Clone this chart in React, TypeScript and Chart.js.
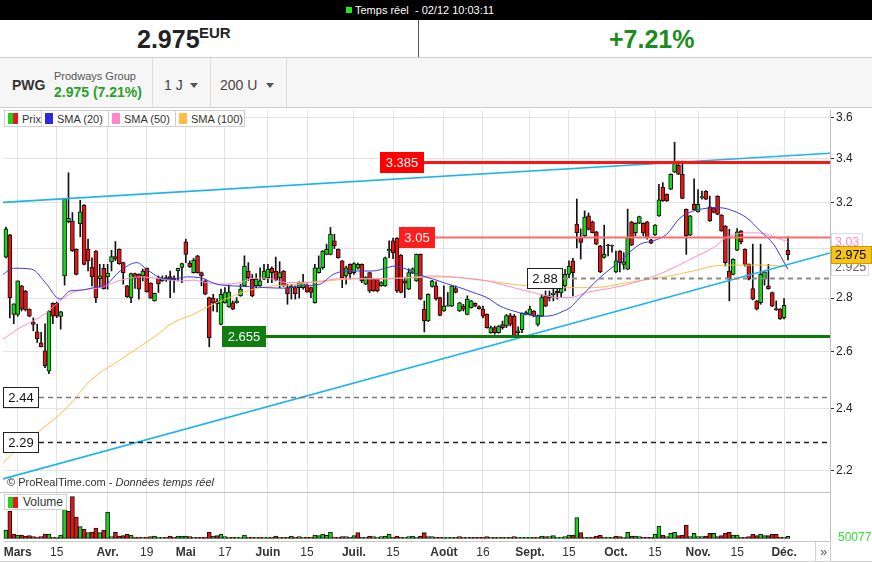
import React, { useEffect, useRef } from 'react';
import { Chart, registerables } from 'chart.js';

Chart.register(...registerables);

const FONT = '"Liberation Sans", Arial, Helvetica, sans-serif';

// ---- daily candles (index 0 = 24 Feb, index 200 = 2 Dec) ----
const opens = [
  2.965, 3.058, 2.737, 2.737, 2.848, 2.828, 2.757, 2.709, 2.671, 2.631,
  2.601, 2.529, 2.780, 2.780, 2.729, 2.888, 3.115, 3.118, 2.997, 3.106,
  3.187, 2.997, 2.924, 2.990, 2.877, 2.919, 2.885, 2.945, 2.967, 2.997,
  2.942, 2.848, 2.802, 2.897, 2.894, 2.888, 2.919, 2.859, 2.789, 2.879,
  2.868, 2.881, 2.885, 2.879, 2.908, 2.922, 3.029, 2.940, 2.901, 2.970,
  2.901, 2.868, 2.802, 2.800, 2.786, 2.699, 2.782, 2.766, 2.782, 2.782,
  2.809, 2.848, 2.908, 2.875, 2.848, 2.848, 2.875, 2.881, 2.919, 2.908,
  2.881, 2.908, 2.841, 2.841, 2.841, 2.841, 2.841, 2.851, 2.841, 2.782,
  2.901, 2.921, 2.976, 2.976, 3.033, 2.997, 2.949, 2.888, 2.935, 2.901,
  2.919, 2.935, 2.855, 2.901, 2.875, 2.875, 2.848, 2.848, 2.990, 3.033,
  3.043, 2.973, 2.868, 2.835, 2.899, 2.868, 2.976, 2.757, 2.712, 2.846,
  2.848, 2.802, 2.750, 2.769, 2.769, 2.837, 2.750, 2.769, 2.737, 2.763,
  2.780, 2.767, 2.757, 2.737, 2.668, 2.687, 2.668, 2.698, 2.693, 2.733,
  2.730, 2.668, 2.679, 2.737, 2.737, 2.750, 2.699, 2.730, 2.809, 2.802,
  2.813, 2.828, 2.820, 2.848, 2.894, 2.949, 3.105, 3.047, 3.054, 3.140,
  3.114, 3.071, 3.012, 2.963, 3.016, 3.010, 2.904, 2.990, 2.935, 2.915,
  3.114, 3.068, 3.108, 3.108, 3.114, 3.037, 3.058, 3.140, 3.269, 3.236,
  3.259, 3.338, 3.371, 3.328, 3.169, 3.057, 3.191, 3.158, 3.221, 3.251,
  3.180, 3.176, 3.228, 3.144, 3.096, 2.908, 2.894, 2.994, 3.075, 2.997,
  2.935, 2.837, 2.789, 2.782, 2.875, 2.848, 2.822, 2.759, 2.757, 2.724,
  2.993,
];

const highs = [
  3.092, 3.060, 2.778, 2.868, 2.850, 2.830, 2.758, 2.724, 2.700, 2.669,
  2.701, 2.752, 2.782, 2.785, 2.749, 3.218, 3.335, 3.155, 2.999, 3.209,
  3.190, 3.040, 2.962, 2.992, 2.935, 2.935, 2.935, 2.993, 3.030, 2.999,
  2.944, 2.850, 2.899, 2.899, 2.896, 2.915, 2.920, 2.861, 2.820, 2.888,
  2.888, 2.890, 2.908, 2.888, 2.920, 2.940, 3.040, 2.949, 2.960, 2.972,
  2.904, 2.875, 2.804, 2.815, 2.797, 2.835, 2.841, 2.852, 2.789, 2.802,
  2.855, 2.970, 2.942, 2.894, 2.897, 2.921, 2.935, 2.935, 2.925, 2.965,
  2.946, 2.910, 2.855, 2.855, 2.848, 2.865, 2.894, 2.861, 2.843, 2.935,
  2.970, 2.992, 3.019, 3.090, 3.061, 2.999, 2.951, 2.928, 2.937, 2.942,
  2.940, 2.937, 2.885, 2.903, 2.877, 2.877, 2.865, 2.965, 3.033, 3.045,
  3.047, 2.975, 2.881, 2.917, 2.921, 2.978, 2.978, 2.789, 2.817, 2.870,
  2.864, 2.804, 2.848, 2.822, 2.850, 2.848, 2.784, 2.776, 2.809, 2.791,
  2.782, 2.770, 2.769, 2.739, 2.693, 2.693, 2.695, 2.712, 2.737, 2.741,
  2.737, 2.690, 2.743, 2.750, 2.769, 2.752, 2.735, 2.815, 2.828, 2.828,
  2.836, 2.836, 2.860, 2.915, 2.949, 2.960, 3.215, 3.084, 3.162, 3.153,
  3.118, 3.073, 3.014, 3.100, 3.018, 3.016, 2.990, 2.992, 2.983, 3.170,
  3.116, 3.110, 3.139, 3.110, 3.116, 3.039, 3.102, 3.282, 3.289, 3.238,
  3.330, 3.480, 3.390, 3.390, 3.171, 3.142, 3.307, 3.258, 3.251, 3.253,
  3.228, 3.178, 3.230, 3.146, 3.098, 3.082, 2.958, 3.085, 3.077, 2.999,
  2.937, 3.019, 2.791, 3.019, 2.906, 2.935, 2.824, 2.789, 2.759, 2.798,
  3.050,
];

const lows = [
  2.961, 2.724, 2.702, 2.730, 2.750, 2.750, 2.728, 2.675, 2.632, 2.616,
  2.541, 2.520, 2.702, 2.725, 2.681, 2.851, 3.110, 2.988, 2.892, 3.050,
  2.933, 2.908, 2.848, 2.782, 2.841, 2.835, 2.835, 2.908, 2.950, 2.935,
  2.855, 2.803, 2.782, 2.838, 2.796, 2.868, 2.823, 2.799, 2.788, 2.822,
  2.866, 2.866, 2.802, 2.822, 2.868, 2.861, 2.942, 2.922, 2.899, 2.899,
  2.848, 2.813, 2.616, 2.750, 2.747, 2.697, 2.780, 2.764, 2.755, 2.780,
  2.807, 2.846, 2.870, 2.805, 2.841, 2.846, 2.873, 2.861, 2.861, 2.868,
  2.841, 2.846, 2.776, 2.796, 2.796, 2.800, 2.835, 2.822, 2.802, 2.780,
  2.899, 2.915, 2.974, 2.974, 3.000, 2.960, 2.841, 2.855, 2.875, 2.894,
  2.915, 2.861, 2.853, 2.822, 2.826, 2.824, 2.846, 2.846, 2.962, 2.958,
  2.822, 2.820, 2.802, 2.833, 2.897, 2.866, 2.794, 2.671, 2.710, 2.843,
  2.792, 2.731, 2.748, 2.768, 2.767, 2.820, 2.748, 2.750, 2.735, 2.761,
  2.767, 2.757, 2.724, 2.685, 2.666, 2.662, 2.666, 2.681, 2.687, 2.693,
  2.654, 2.660, 2.668, 2.735, 2.735, 2.728, 2.693, 2.728, 2.767, 2.789,
  2.789, 2.796, 2.805, 2.828, 2.881, 2.809, 3.003, 2.957, 3.050, 3.079,
  3.066, 3.017, 2.901, 2.960, 2.970, 2.985, 2.901, 2.904, 2.915, 2.913,
  3.013, 3.054, 3.106, 3.054, 3.040, 3.021, 3.056, 3.138, 3.204, 3.204,
  3.257, 3.336, 3.326, 3.216, 2.976, 3.055, 3.164, 3.156, 3.214, 3.212,
  3.116, 3.153, 3.145, 3.073, 2.928, 2.789, 2.892, 2.992, 3.020, 2.928,
  2.872, 2.793, 2.754, 2.776, 2.851, 2.835, 2.767, 2.752, 2.718, 2.720,
  2.953,
];

const closes = [
  3.084, 2.802, 2.778, 2.868, 2.757, 2.754, 2.730, 2.699, 2.646, 2.617,
  2.547, 2.750, 2.730, 2.730, 2.747, 3.216, 3.130, 2.990, 2.894, 3.158,
  2.935, 2.949, 2.884, 2.802, 2.888, 2.837, 2.899, 2.967, 2.956, 2.938,
  2.901, 2.805, 2.897, 2.879, 2.835, 2.908, 2.825, 2.800, 2.819, 2.857,
  2.879, 2.876, 2.875, 2.871, 2.919, 2.938, 2.976, 2.925, 2.952, 2.901,
  2.888, 2.815, 2.650, 2.782, 2.778, 2.815, 2.822, 2.825, 2.757, 2.789,
  2.835, 2.928, 2.881, 2.809, 2.875, 2.868, 2.908, 2.915, 2.901, 2.871,
  2.901, 2.848, 2.817, 2.848, 2.817, 2.861, 2.861, 2.824, 2.822, 2.921,
  2.921, 2.990, 2.997, 3.061, 3.012, 2.962, 2.881, 2.921, 2.897, 2.938,
  2.935, 2.868, 2.881, 2.828, 2.828, 2.828, 2.861, 2.962, 2.997, 2.983,
  2.828, 2.822, 2.859, 2.901, 2.917, 2.976, 2.796, 2.712, 2.815, 2.868,
  2.798, 2.733, 2.769, 2.772, 2.848, 2.822, 2.782, 2.757, 2.796, 2.789,
  2.769, 2.759, 2.730, 2.687, 2.687, 2.668, 2.693, 2.687, 2.733, 2.699,
  2.656, 2.675, 2.741, 2.744, 2.757, 2.730, 2.733, 2.802, 2.769, 2.809,
  2.820, 2.820, 2.848, 2.894, 2.928, 2.901, 3.068, 3.026, 3.135, 3.082,
  3.068, 3.019, 2.904, 2.976, 3.012, 3.014, 2.949, 2.942, 2.945, 3.047,
  3.015, 3.108, 3.137, 3.066, 3.047, 3.023, 3.100, 3.211, 3.206, 3.206,
  3.328, 3.379, 3.328, 3.218, 3.054, 3.140, 3.166, 3.191, 3.226, 3.214,
  3.118, 3.155, 3.147, 3.075, 2.942, 2.875, 2.956, 3.071, 3.029, 2.935,
  2.875, 2.796, 2.757, 2.894, 2.904, 2.837, 2.769, 2.754, 2.720, 2.772,
  2.975,
];

const volumes = [
  207500, 675000, 107500, 82500, 82500, 57500, 67500, 42500, 32500, 42500,
  107500, 107500, 17500, 32500, 82500, 767500, 675000, 1042500, 532500, 292500,
  225000, 142500, 157500, 257500, 142500, 207500, 657500, 42500, 150000, 57500,
  67500, 100000, 82500, 32500, 32500, 25000, 32500, 42500, 57500, 25000,
  25000, 32500, 57500, 25000, 57500, 57500, 57500, 42500, 25000, 25000,
  25000, 32500, 150000, 57500, 67500, 107500, 42500, 25000, 25000, 25000,
  32500, 82500, 25000, 25000, 25000, 32500, 32500, 32500, 25000, 57500,
  25000, 25000, 25000, 57500, 25000, 42500, 25000, 25000, 25000, 82500,
  67500, 107500, 75000, 157500, 25000, 25000, 42500, 42500, 25000, 67500,
  142500, 25000, 25000, 57500, 42500, 25000, 42500, 57500, 107500, 25000,
  57500, 25000, 25000, 42500, 57500, 25000, 57500, 142500, 42500, 42500,
  25000, 25000, 32500, 25000, 25000, 25000, 42500, 25000, 25000, 25000,
  25000, 25000, 25000, 42500, 25000, 25000, 25000, 32500, 25000, 25000,
  42500, 25000, 25000, 25000, 25000, 25000, 25000, 57500, 42500, 42500,
  67500, 25000, 25000, 42500, 82500, 82500, 517500, 142500, 25000, 25000,
  25000, 57500, 82500, 25000, 25000, 25000, 57500, 42500, 25000, 150000,
  57500, 57500, 42500, 25000, 25000, 25000, 107500, 307500, 82500, 42500,
  125000, 150000, 67500, 82500, 332500, 42500, 125000, 42500, 42500, 57500,
  125000, 125000, 42500, 67500, 125000, 150000, 82500, 82500, 25000, 25000,
  42500, 107500, 67500, 107500, 67500, 67500, 100000, 100000, 25000, 25000,
  50077,
];

// ---- axis ticks ----
const tickIdx = [3, 13, 26, 36, 46, 56, 67, 77, 89, 99, 112, 122, 134, 144, 156, 166, 177, 187, 199];
const tickLabels = ['Mars', '15', 'Avr.', '19', 'Mai', '17', 'Juin', '15', 'Juil.', '15', 'Août', '16', 'Sept.', '15', 'Oct.', '15', 'Nov.', '15', 'Déc.'];
const priceTicks = [2.2, 2.4, 2.6, 2.8, 3.0, 3.2, 3.4, 3.6];

// ---- moving averages (index, value) ----
const sma20: [number, number][] = [
  [-0.75, 2.894], [1.9, 2.919], [6.6, 2.915], [10.4, 2.855], [13.8, 2.796], [16.4, 2.828], [19, 2.831],
  [22.4, 2.841], [25.8, 2.855], [29.2, 2.908], [33.5, 2.942], [36, 2.915], [39.4, 2.881], [42.8, 2.875],
  [46.2, 2.884], [49.6, 2.881], [53.9, 2.855], [58.2, 2.848], [62.4, 2.845], [66.7, 2.841], [71.8, 2.839],
  [75.2, 2.848], [80.3, 2.855], [83.7, 2.894], [87.2, 2.908], [94, 2.908], [97.4, 2.921], [99.5, 2.928],
  [102.5, 2.915], [105.9, 2.891], [109.3, 2.875], [112.7, 2.857], [116.1, 2.841], [119.5, 2.822], [123, 2.802],
  [126.4, 2.769], [129.8, 2.75], [133.2, 2.737], [136.6, 2.73], [140, 2.734], [142.6, 2.75], [144.3, 2.763],
  [146.8, 2.802], [151.9, 2.881], [157.1, 2.949], [162.2, 3.019], [165.6, 3.033], [169, 3.061], [172.4, 3.131],
  [177.5, 3.169], [182.6, 3.176], [186, 3.162], [189.5, 3.131], [192.9, 3.075], [196.3, 3.019], [198.8, 2.949],
  [200, 2.915],
];
const sma50: [number, number][] = [
  [-0.75, 2.644], [3.6, 2.687], [7, 2.712], [10.4, 2.744], [13.8, 2.789], [17.2, 2.822], [20.7, 2.835],
  [24.1, 2.841], [27.5, 2.861], [30.9, 2.877], [34.3, 2.884], [39.4, 2.877], [44.5, 2.868], [47.9, 2.871],
  [51.4, 2.861], [54.8, 2.855], [59.9, 2.861], [63.3, 2.879], [66.7, 2.879], [71.8, 2.861], [78.6, 2.864],
  [87.2, 2.879], [95.7, 2.875], [102.5, 2.881], [109.3, 2.888], [116.1, 2.881], [123, 2.868], [129.8, 2.841],
  [136.6, 2.815], [140.9, 2.802], [144.3, 2.802], [148.5, 2.822], [155.3, 2.841], [162.2, 2.868], [169, 2.908],
  [175.8, 2.962], [180.9, 3.004], [184.3, 3.047], [187.7, 3.064], [191.1, 3.067], [194.6, 3.061], [198, 3.04],
  [200, 3.029],
];
const sma100: [number, number][] = [
  [-0.75, 2.224], [3.6, 2.278], [8.7, 2.327], [13.8, 2.381], [17.2, 2.426], [20.7, 2.483], [24.1, 2.524],
  [27.5, 2.553], [32.6, 2.601], [37.7, 2.65], [42.8, 2.706], [47.9, 2.737], [53, 2.776], [58.2, 2.809],
  [63.3, 2.835], [68.4, 2.848], [71.8, 2.851], [78.6, 2.861], [87.2, 2.875], [95.7, 2.877], [104.2, 2.881],
  [112.7, 2.884], [119.5, 2.875], [126.4, 2.861], [133.2, 2.848], [138.3, 2.841], [144.3, 2.841], [150.2, 2.841],
  [158.8, 2.861], [167.3, 2.881], [175.8, 2.908], [180.9, 2.928], [186, 2.932], [192.9, 2.932], [198, 2.928],
  [200, 2.925],
];

// ---- trend lines & horizontal levels ----
const trendUpper: [number, number][] = [[-0.75, 3.2], [210.75, 3.427]];
const trendLower: [number, number][] = [[-0.75, 2.176], [210.75, 2.982]];
const levelValues = [3.385, 3.05, 2.655, 2.88, 2.44, 2.29];
const levelStarts = [95.7, 100.5, 55.3, 133.3, -0.75, -0.75];

const X_MIN = -0.75;
const X_MAX = 210.75;
const Y_MIN = 2.1335;
const Y_MAX = 3.64;

const levelStyles = [
  { line: '#ff1414', width: 3, dash: [] as number[], fill: '#ff0000', text: '#ffffff', border: '' },
  { line: '#ff6a6a', width: 2, dash: [] as number[], fill: '#ff1e1e', text: '#ffffff', border: '' },
  { line: '#0b7a0b', width: 3, dash: [] as number[], fill: '#0f7d0f', text: '#ffffff', border: '' },
  { line: '#8c8c8c', width: 2, dash: [5, 4], fill: '#ffffff', text: '#111111', border: '#222222' },
  { line: '#7a7a7a', width: 1.5, dash: [5, 4], fill: '#ffffff', text: '#111111', border: '#222222' },
  { line: '#222222', width: 1.5, dash: [5, 4], fill: '#ffffff', text: '#111111', border: '#222222' },
];

const levelsPlugin = {
  id: 'levels',
  afterDatasetsDraw(chart: any) {
    const { ctx, chartArea, scales } = chart;
    const xs = scales.x;
    const ys = scales.y;
    ctx.save();
    ctx.beginPath();
    ctx.rect(chartArea.left, chartArea.top, chartArea.right - chartArea.left, chartArea.bottom - chartArea.top);
    ctx.clip();
    ctx.font = '13px ' + FONT;
    levelValues.forEach((v, k) => {
      const st = levelStyles[k];
      const yy = Math.round(ys.getPixelForValue(v));
      const x0 = Math.max(Math.round(xs.getPixelForValue(levelStarts[k])), chartArea.left);
      const label = String(v);
      const w = Math.round(ctx.measureText(label).width + 11);
      const h = 21;
      ctx.strokeStyle = st.line;
      ctx.lineWidth = st.width;
      ctx.setLineDash(st.dash);
      ctx.beginPath();
      ctx.moveTo(x0 + w, yy + 0.5);
      ctx.lineTo(chartArea.right, yy + 0.5);
      ctx.stroke();
      ctx.setLineDash([]);
      ctx.fillStyle = st.fill;
      ctx.fillRect(x0, yy - 10, w, h);
      if (st.border) {
        ctx.strokeStyle = st.border;
        ctx.lineWidth = 1;
        ctx.strokeRect(x0 + 0.5, yy - 9.5, w - 1, h - 1);
      }
      ctx.fillStyle = st.text;
      ctx.textAlign = 'center';
      ctx.textBaseline = 'middle';
      ctx.fillText(label, x0 + w / 2, yy + 1);
    });
    ctx.restore();
  },
  afterDraw(chart: any) {
    const { ctx, chartArea, scales } = chart;
    const ys = scales.y;
    const tags = [
      { v: sma50[sma50.length - 1][1], txt: sma50[sma50.length - 1][1].toFixed(2), fill: '#ffffff', color: '#ff8ccb', border: '#dddddd', w: 32 },
      { v: sma100[sma100.length - 1][1], txt: sma100[sma100.length - 1][1].toFixed(3), fill: '#ffffff', color: '#666666', border: '#dddddd', w: 38 },
      { v: closes[closes.length - 1], txt: closes[closes.length - 1].toFixed(3), fill: '#f6c417', color: '#000000', border: '#c89c00', w: 0 },
    ];
    ctx.save();
    ctx.font = '12.5px ' + FONT;
    ctx.textBaseline = 'middle';
    ctx.textAlign = 'left';
    const x0 = chartArea.right + 1;
    tags.forEach((t) => {
      const w = t.w || chart.width - x0;
      const yy = Math.round(ys.getPixelForValue(t.v));
      ctx.fillStyle = t.fill;
      ctx.fillRect(x0, yy - 9, w, 18);
      ctx.strokeStyle = t.border;
      ctx.lineWidth = 1;
      ctx.strokeRect(x0 + 0.5, yy - 8.5, w - 1, 17);
      ctx.fillStyle = t.color;
      ctx.fillText(t.txt, x0 + 4, yy + 1);
    });
    ctx.restore();
  },
};

const abs = (o: React.CSSProperties): React.CSSProperties => ({ position: 'absolute', ...o });

function LegendItem({ w, icon, label }: { w: number; icon: React.ReactNode; label: string }) {
  return (
    <div style={{ width: w, height: 17, boxSizing: 'border-box', border: '1px solid #cfcfcf', marginRight: -1, background: '#fff', display: 'flex', alignItems: 'center', paddingLeft: 3, fontSize: 11, color: '#333', whiteSpace: 'nowrap', overflow: 'hidden' }}>
      {icon}
      <span style={{ marginLeft: 4 }}>{label}</span>
    </div>
  );
}

const sq = (c: string) => <span style={{ display: 'inline-block', width: 8, height: 11, background: c }} />;
const split = (
  <span style={{ display: 'inline-flex' }}>
    <span style={{ display: 'inline-block', width: 5, height: 11, background: '#1ed21e' }} />
    <span style={{ display: 'inline-block', width: 5, height: 11, background: '#e81818' }} />
  </span>
);

export default function App() {
  const priceRef = useRef<HTMLCanvasElement | null>(null);
  const volRef = useRef<HTMLCanvasElement | null>(null);

  useEffect(() => {
    document.body.style.margin = '0';
    Chart.defaults.font.family = FONT;
    const idx = closes.map((_, i) => i);
    const GREEN = '#16d616';
    const RED = '#e81414';
    const candleColors = idx.map((i) => (closes[i] >= opens[i] ? GREEN : RED));
    const volColors = idx.map((i) => (i === 0 || closes[i] >= closes[i - 1] ? GREEN : RED));
    const gridTicks = (s: any) => {
      s.ticks = tickIdx.map((v) => ({ value: v }));
    };
    const lineDs = (pts: [number, number][], color: string, width: number, order: number, smooth: boolean) => ({
      type: 'line' as const,
      data: pts.map(([x, y]) => ({ x, y })),
      borderColor: color,
      borderWidth: width,
      pointRadius: 0,
      fill: false,
      order,
      cubicInterpolationMode: smooth ? ('monotone' as const) : ('default' as const),
    });

    const price = new Chart(priceRef.current as HTMLCanvasElement, {
      type: 'bar',
      data: {
        datasets: [
          lineDs(trendUpper, '#1db3ef', 1.6, 0, false),
          lineDs(trendLower, '#1db3ef', 1.6, 0, false),
          lineDs(sma20, '#3b3be0', 1, 1, true),
          lineDs(sma50, '#ff8ccb', 1, 1, true),
          lineDs(sma100, '#ffbc45', 1, 1, true),
          {
            type: 'bar',
            data: idx.map((i) => ({ x: i, y: [opens[i], closes[i]] })),
            backgroundColor: candleColors,
            borderColor: '#111',
            borderWidth: 1,
            borderSkipped: false,
            barThickness: 4,
            grouped: false,
            minBarLength: 1,
            order: 2,
          },
          {
            type: 'bar',
            data: idx.map((i) => ({ x: i, y: [lows[i], highs[i]] })),
            backgroundColor: '#111',
            barThickness: 1,
            grouped: false,
            order: 3,
          },
        ] as any,
      },
      options: {
        animation: false,
        responsive: false,
        devicePixelRatio: 1,
        events: [],
        layout: { padding: { left: 3, right: 0, top: 2, bottom: 0 } },
        plugins: { legend: { display: false }, tooltip: { enabled: false } },
        scales: {
          x: {
            type: 'linear',
            min: X_MIN,
            max: X_MAX,
            offset: false,
            bounds: 'data',
            afterBuildTicks: gridTicks,
            afterFit: (s: any) => {
              s.height = 0;
              s.paddingLeft = 0;
              s.paddingRight = 0;
            },
            ticks: { display: false, autoSkip: false },
            grid: { color: '#e3e3e3', drawTicks: false, offset: false },
            border: { display: false },
          },
          y: {
            type: 'logarithmic',
            position: 'right',
            min: Y_MIN,
            max: Y_MAX,
            bounds: 'data',
            afterBuildTicks: (s: any) => {
              s.ticks = priceTicks.map((v) => ({ value: v }));
            },
            afterFit: (s: any) => {
              s.width = 42;
              s.paddingTop = 0;
              s.paddingBottom = 0;
            },
            ticks: {
              autoSkip: false,
              color: '#222',
              padding: 2,
              font: { size: 12, family: FONT },
              callback: (v: any) => (Math.abs(Number(v) - 3) < 1e-9 ? '' : Number(v).toFixed(1)),
            },
            grid: { color: '#e3e3e3', tickColor: '#333', tickLength: 4, drawTicks: true },
            border: { display: true, color: '#bdbdbd' },
          },
        } as any,
      },
      plugins: [levelsPlugin],
    });

    const vol = new Chart(volRef.current as HTMLCanvasElement, {
      type: 'bar',
      data: {
        datasets: [
          {
            data: idx.map((i) => ({ x: i, y: volumes[i] })),
            backgroundColor: volColors,
            borderColor: '#111',
            borderWidth: 1,
            borderSkipped: false,
            barThickness: 4,
            grouped: false,
            minBarLength: 1,
          },
        ] as any,
      },
      options: {
        animation: false,
        responsive: false,
        devicePixelRatio: 1,
        events: [],
        layout: { padding: { left: 3, right: 0, top: 0, bottom: 0 } },
        plugins: { legend: { display: false }, tooltip: { enabled: false } },
        scales: {
          x: {
            type: 'linear',
            min: X_MIN,
            max: X_MAX,
            offset: false,
            bounds: 'data',
            afterBuildTicks: gridTicks,
            afterFit: (s: any) => {
              s.height = 21;
              s.paddingLeft = 0;
              s.paddingRight = 0;
            },
            ticks: {
              autoSkip: false,
              maxRotation: 0,
              padding: 4,
              color: '#333',
              font: (c: any) => ({ family: FONT, size: 12, weight: /^\d+$/.test(tickLabels[c.index] || '') ? 'normal' : 'bold' }),
              callback: (_v: any, i: number) => tickLabels[i] ?? '',
            },
            grid: { color: '#e3e3e3', drawTicks: false, offset: false },
            border: { display: true, color: '#c8c8c8' },
          },
          y: {
            type: 'linear',
            position: 'right',
            min: -67500,
            max: 1132500,
            ticks: { display: false },
            grid: { display: false },
            border: { display: true, color: '#bdbdbd' },
            afterFit: (s: any) => {
              s.width = 42;
              s.paddingTop = 0;
              s.paddingBottom = 0;
            },
          },
        } as any,
      },
    });

    return () => {
      price.destroy();
      vol.destroy();
    };
  }, []);

  return (
    <div style={{ position: 'relative', width: 872, height: 562, overflow: 'hidden', background: '#fff', fontFamily: FONT }}>
      {/* top status bar */}
      <div style={abs({ left: 0, top: 0, width: 872, height: 20, background: '#000' })} />
      <div style={abs({ left: 346, top: 0, height: 20, display: 'flex', alignItems: 'center', color: '#fff', fontSize: 11, whiteSpace: 'pre' })}>
        <span style={{ display: 'inline-block', width: 6, height: 6, background: '#22e822', marginRight: 3 }} />
        <span>Temps réel  - 02/12 10:03:11</span>
      </div>

      {/* price row */}
      <div style={abs({ left: 137, top: 27, fontSize: 25, lineHeight: '25px', fontWeight: 'bold', color: '#222' })}>2.975</div>
      <div style={abs({ left: 199, top: 25, fontSize: 15, lineHeight: '15px', fontWeight: 'bold', color: '#222' })}>EUR</div>
      <div style={abs({ left: 418, top: 20, width: 1, height: 37, background: '#555' })} />
      <div style={abs({ left: 609, top: 27, fontSize: 25, lineHeight: '25px', fontWeight: 'bold', color: '#1c8c1c' })}>+7.21%</div>
      <div style={abs({ left: 0, top: 57, width: 872, height: 1, background: '#cfcfcf' })} />

      {/* toolbar */}
      <div style={abs({ left: 0, top: 58, width: 872, height: 50, background: '#f6f6f6' })} />
      <div style={abs({ left: 152, top: 58, width: 1, height: 50, background: '#dcdcdc' })} />
      <div style={abs({ left: 210, top: 58, width: 1, height: 50, background: '#dcdcdc' })} />
      <div style={abs({ left: 286, top: 58, width: 1, height: 50, background: '#dcdcdc' })} />
      <div style={abs({ left: 12, top: 78, fontSize: 14, lineHeight: '14px', fontWeight: 'bold', color: '#333' })}>PWG</div>
      <div style={abs({ left: 54, top: 70, fontSize: 11, lineHeight: '12px', color: '#555' })}>Prodways Group</div>
      <div style={abs({ left: 54, top: 85, fontSize: 14, lineHeight: '14px', fontWeight: 'bold', color: '#2a9f2a' })}>2.975 (7.21%)</div>
      <div style={abs({ left: 164, top: 78, fontSize: 14, lineHeight: '14px', color: '#444' })}>1 J</div>
      <div style={abs({ left: 190, top: 83, width: 0, height: 0, borderLeft: '4px solid transparent', borderRight: '4px solid transparent', borderTop: '5px solid #555' })} />
      <div style={abs({ left: 220, top: 78, fontSize: 14, lineHeight: '14px', color: '#444' })}>200 U</div>
      <div style={abs({ left: 266, top: 83, width: 0, height: 0, borderLeft: '4px solid transparent', borderRight: '4px solid transparent', borderTop: '5px solid #555' })} />
      <div style={abs({ left: 0, top: 107, width: 872, height: 1, background: '#cfcfcf' })} />

      {/* charts */}
      <canvas ref={priceRef} width={872} height={385} style={abs({ left: 0, top: 108, width: 872, height: 385 })} />
      <canvas ref={volRef} width={872} height={69} style={abs({ left: 0, top: 493, width: 872, height: 69 })} />
      <div style={abs({ left: 0, top: 492, width: 831, height: 1, background: '#c4c4c4' })} />

      {/* price legend */}
      <div style={abs({ left: 4, top: 110, display: 'flex' })}>
        <LegendItem w={38} icon={split} label="Prix" />
        <LegendItem w={68} icon={sq('#2b2bdc')} label="SMA (20)" />
        <LegendItem w={68} icon={sq('#ff88c8')} label="SMA (50)" />
        <LegendItem w={70} icon={sq('#ffbb44')} label="SMA (100)" />
      </div>

      {/* copyright */}
      <div style={abs({ left: 7, top: 476, fontSize: 11, lineHeight: '12px', color: '#333', whiteSpace: 'nowrap' })}>
        © ProRealTime.com - <i>Données temps réel</i>
      </div>

      {/* volume legend */}
      <div style={abs({ left: 4, top: 494 })}>
        <div style={{ height: 16, boxSizing: 'border-box', border: '1px solid #cfcfcf', background: '#fff', display: 'flex', alignItems: 'center', padding: '0 3px', fontSize: 12, color: '#333' }}>
          {split}
          <span style={{ marginLeft: 5 }}>Volume</span>
        </div>
      </div>
      <div style={abs({ left: 838, top: 530, fontSize: 12, lineHeight: '14px', color: '#2fe02f' })}>{String(volumes[volumes.length - 1])}</div>

      {/* bottom-right control */}
      <div style={abs({ left: 815, top: 542, width: 15, height: 19, borderLeft: '1px solid #cfcfcf', color: '#555', fontSize: 13, lineHeight: '19px', textAlign: 'center' })}>»</div>
      <div style={abs({ left: 830, top: 541, width: 1, height: 21, background: '#cfcfcf' })} />
      <div style={abs({ left: 0, top: 561, width: 872, height: 1, background: '#cfcfcf' })} />
    </div>
  );
}
